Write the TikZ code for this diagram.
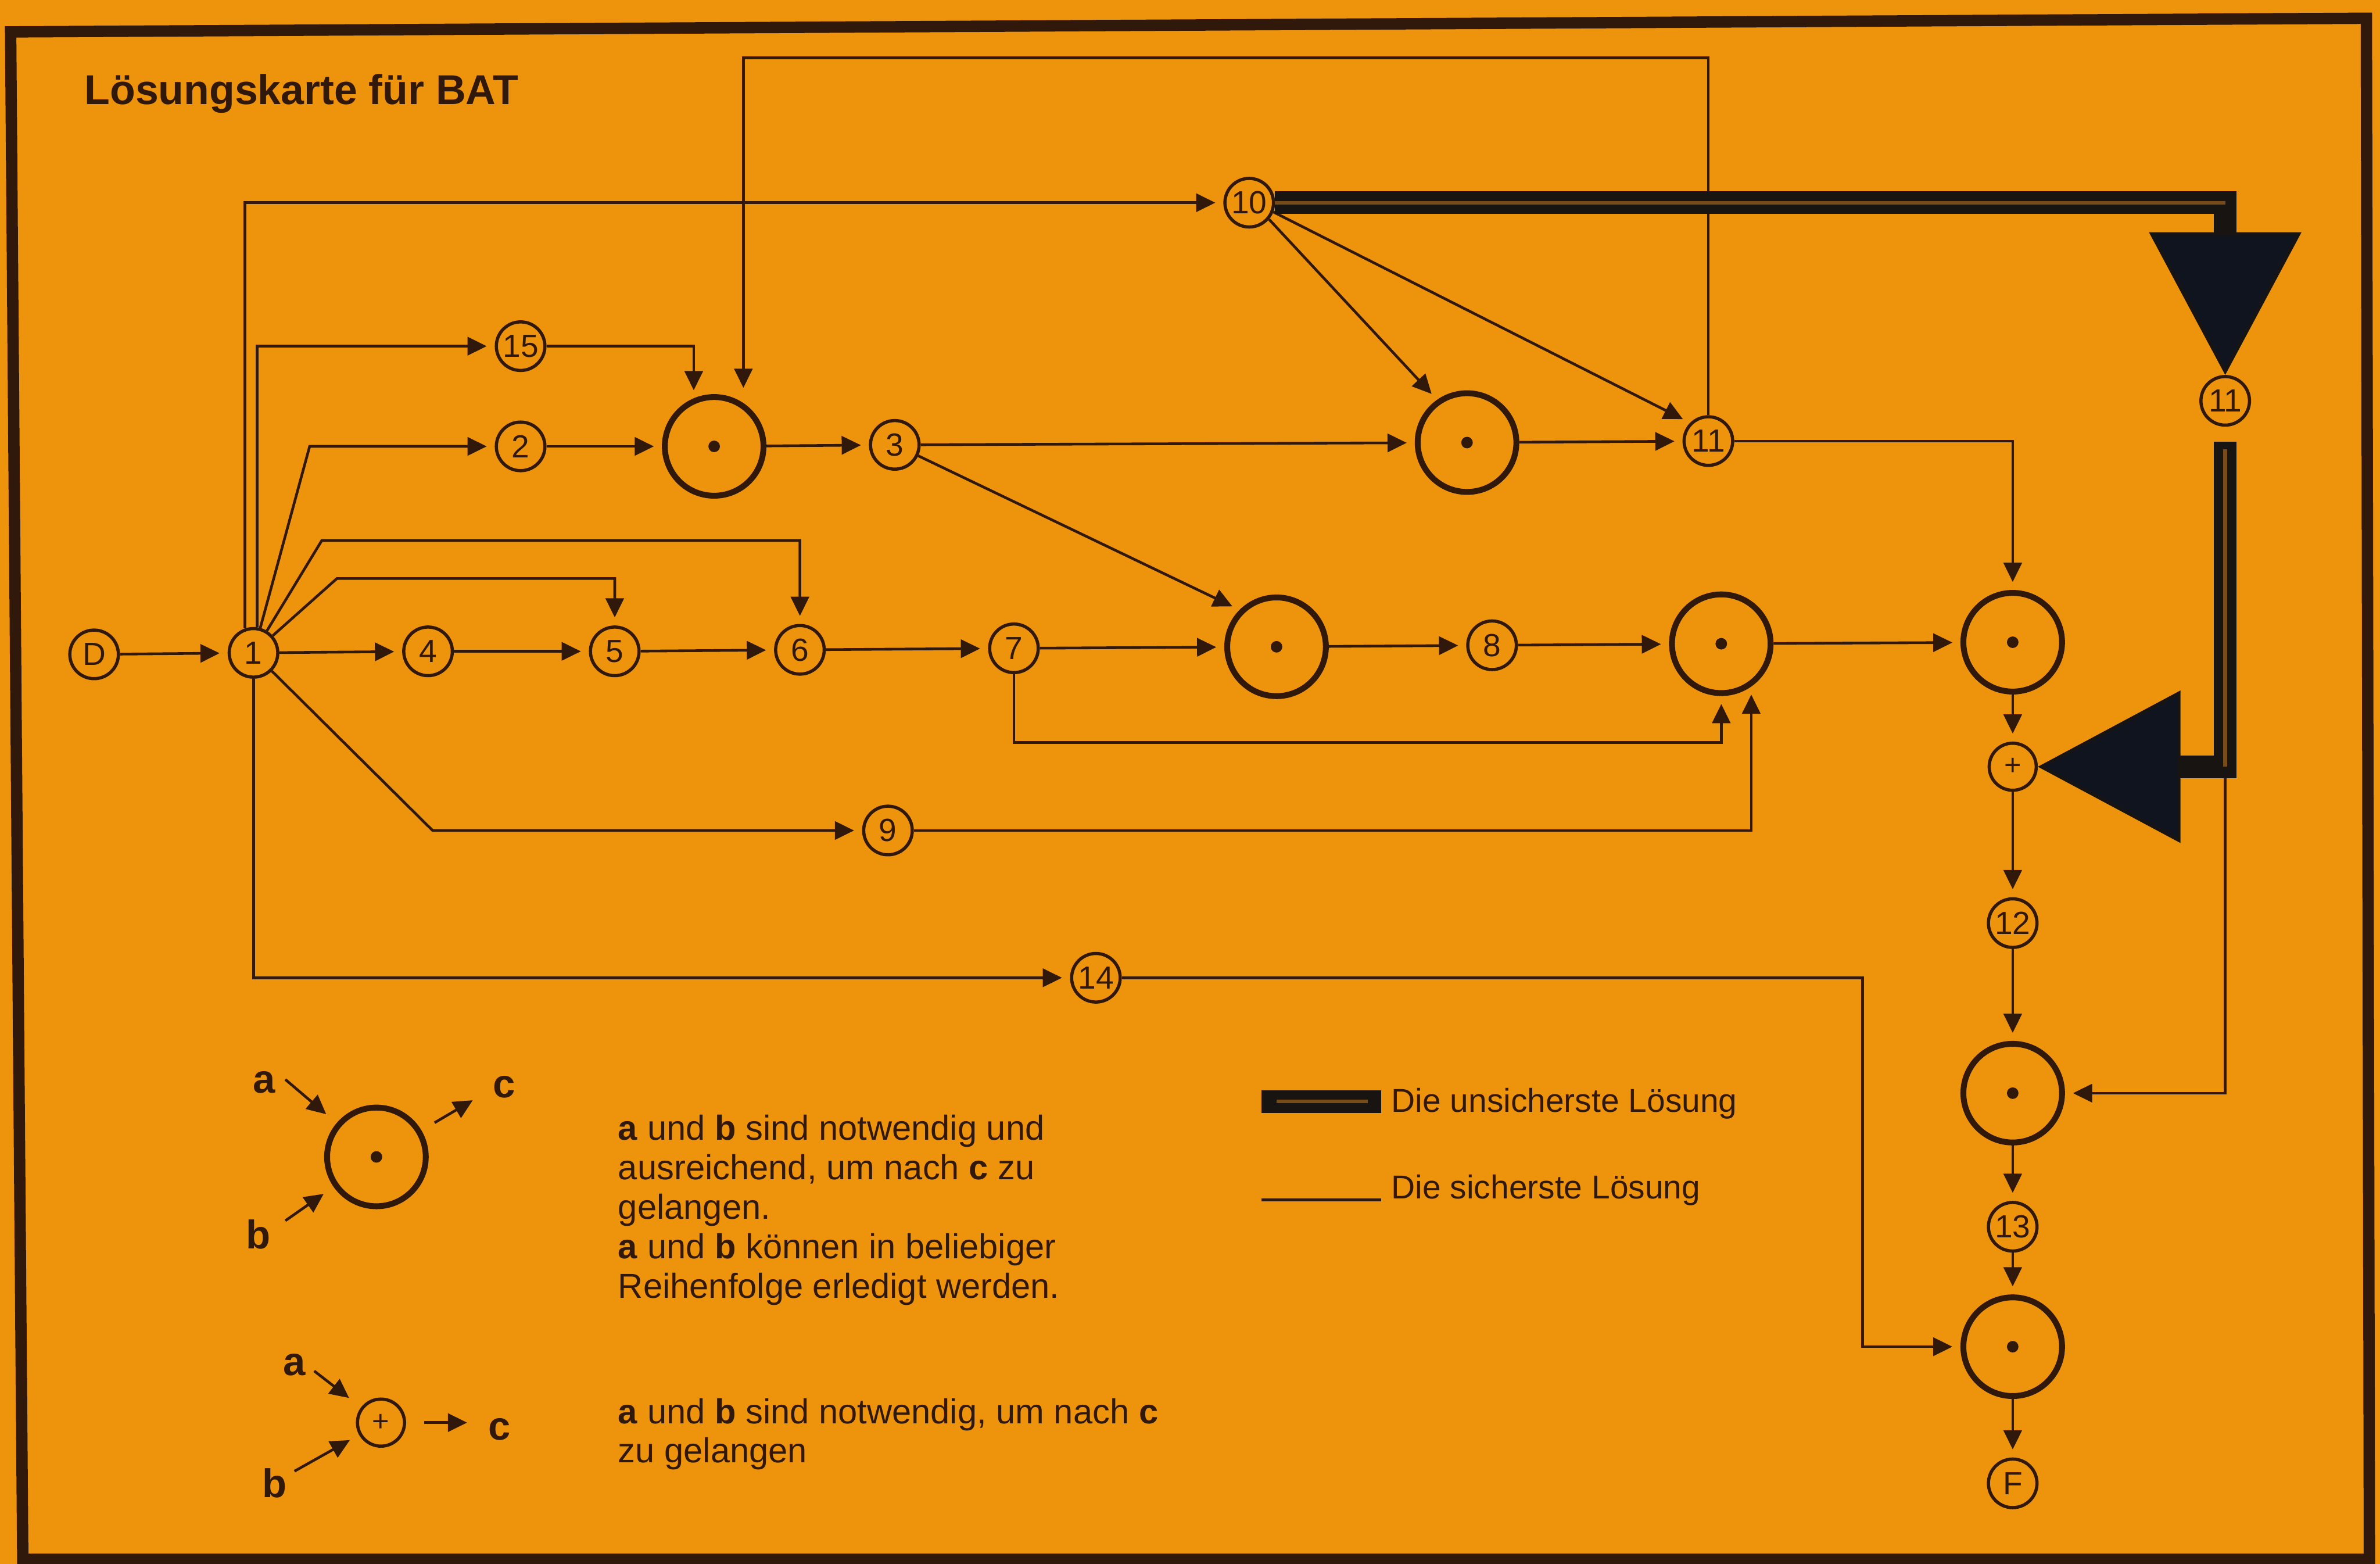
\documentclass[tikz,border=0pt]{standalone}
\usepackage{fontspec}
\setmainfont{Liberation Sans}
\usetikzlibrary{arrows.meta}

\definecolor{karte}{RGB}{238,147,12}
\definecolor{tinte}{RGB}{48,24,10}
\definecolor{balken}{RGB}{24,20,18}
\definecolor{keil}{RGB}{16,20,30}
\definecolor{streifen}{RGB}{120,76,24}

\tikzset{
	evt/.style={circle, draw=tinte, line width=0.6pt, minimum size=0.32cm, inner sep=0pt, text=tinte, font=\fontsize{6}{6}\selectfont},
	und/.style={circle, draw=tinte, line width=1.1pt, minimum size=0.65cm, inner sep=0pt, path picture={\fill[tinte] (path picture bounding box.center) circle (0.038);}},
	oder/.style={circle, draw=tinte, line width=0.6pt, minimum size=0.31cm, inner sep=0pt, text=tinte, font=\fontsize{5.5}{5.5}\selectfont},
	pfeil/.style={draw=tinte, line width=0.5pt, -{Triangle[length=3.6pt,width=3.4pt]}, shorten >=1.5pt},
	linie/.style={draw=tinte, line width=0.5pt},
	unsicher/.style={draw=balken, line width=0.15cm, line join=miter, -{Triangle[length=9.4mm,width=10mm,line width=0.6pt,fill=keil]}},
	naht/.style={draw=streifen, line width=0.7pt},
	rahmen/.style={draw=tinte, line width=0.075cm, line join=miter},
	lbl/.style={text=tinte, font=\bfseries\fontsize{7.5}{7.5}\selectfont, inner sep=0pt},
	txt/.style={text=tinte, font=\fontsize{6.5}{7.4}\selectfont, inner sep=0pt, align=left, anchor=base west},
	legtxt/.style={text=tinte, font=\fontsize{6.2}{7}\selectfont, inner sep=0pt, anchor=base west},
}

\begin{document}
\begin{tikzpicture}
	\useasboundingbox (0,0) rectangle (15.68,-10.30);
	\fill [karte] (0,0) rectangle (15.68,-10.30);
	\draw [rahmen] (0.07,-0.21) -- (15.59,-0.12) -- (15.61,-10.27) -- (0.15,-10.27) -- cycle;

	\node [anchor=base west, text=tinte, font=\bfseries\fontsize{7.8}{7.8}\selectfont, inner sep=0pt] (titel) at (0.55,-0.687) {Lösungskarte für BAT};

	\node [evt] (nD) at (0.62,-4.31) {D};
	\node [evt] (n1) at (1.67,-4.30) {1};
	\node [evt] (n4) at (2.82,-4.29) {4};
	\node [evt] (n5) at (4.05,-4.29) {5};
	\node [evt] (n6) at (5.27,-4.28) {6};
	\node [evt] (n7) at (6.68,-4.27) {7};
	\node [und] (uA) at (8.41,-4.26) {};
	\node [evt] (n8) at (9.83,-4.25) {8};
	\node [und] (uB) at (11.34,-4.24) {};
	\node [und] (uC) at (13.26,-4.23) {};
	\node [oder] (plus) at (13.26,-5.05) {+};
	\node [evt] (n12) at (13.26,-6.08) {12};
	\node [und] (uD) at (13.26,-7.20) {};
	\node [evt] (n13) at (13.26,-8.08) {13};
	\node [und] (uE) at (13.26,-8.87) {};
	\node [evt] (nF) at (13.26,-9.77) {F};

	\node [evt] (n15) at (3.43,-2.28) {15};
	\node [evt] (n2) at (3.43,-2.94) {2};
	\node [und] (uT) at (4.705,-2.94) {};
	\node [evt] (n3) at (5.895,-2.93) {3};
	\node [und] (uM) at (9.665,-2.915) {};
	\node [evt] (n11) at (11.255,-2.905) {11};
	\node [evt] (n10) at (8.23,-1.335) {10};
	\node [evt] (n11b) at (14.66,-2.64) {11};
	\node [evt] (n9) at (5.85,-5.47) {9};
	\node [evt] (n14) at (7.22,-6.44) {14};

	\coordinate (k2) at (2.04,-2.94);
	\coordinate (k6) at (2.12,-3.56);
	\coordinate (k5) at (2.22,-3.81);
	\coordinate (k9) at (2.85,-5.47);
	\coordinate (k7) at (6.68,-4.89);
	\coordinate (k14) at (12.27,-6.44);
	\coordinate (top) at (0,-0.38);
	\coordinate (r1) at (14.66,-1.335);
	\coordinate (r2) at (14.66,-5.05);

	\draw [pfeil] (nD) -- (n1);
	\draw [pfeil] (n1) -- (n4);
	\draw [pfeil] (n4) -- (n5);
	\draw [pfeil] (n5) -- (n6);
	\draw [pfeil] (n6) -- (n7);
	\draw [pfeil] (n7) -- (uA);
	\draw [pfeil] (uA) -- (n8);
	\draw [pfeil] (n8) -- (uB);
	\draw [pfeil] (uB) -- (uC);
	\draw [pfeil] (uC) -- (plus);
	\draw [pfeil] (plus) -- (n12);
	\draw [pfeil] (n12) -- (uD);
	\draw [pfeil] (uD) -- (n13);
	\draw [pfeil] (n13) -- (uE);
	\draw [pfeil] (uE) -- (nF);

	\draw [pfeil] (n1.109) |- (n10);
	\draw [pfeil] (n1.82) |- (n15);
	\draw [pfeil] (n1) -- (k2) -- (n2);
	\draw [pfeil] (n1) -- (k6) -| (n6);
	\draw [pfeil] (n1) -- (k5) -| (n5);
	\draw [pfeil] (n1) -- (k9) -- (n9);
	\draw [pfeil] (n1) |- (n14);

	\draw [pfeil] (n15) -| (uT.113);
	\draw [pfeil] (n2) -- (uT);
	\draw [pfeil] (uT) -- (n3);
	\draw [pfeil] (n3) -- (uM);
	\draw [pfeil] (n3.-25) -- (uA.135);
	\draw [pfeil] (n10.-40) -- (uM.125);
	\draw [pfeil] (n10.-21) -- (n11.135);
	\draw [pfeil] (uM) -- (n11);
	\draw [pfeil, shorten >=0.1cm] (n11) -- (n11 |- top) -| (uT.56);
	\draw [pfeil] (n11) -| (uC);
	\draw [pfeil] (n7) -- (k7) -| (uB);
	\draw [pfeil] (n9) -| (uB.-55);
	\draw [pfeil] (n14) -- (k14) |- (uE);
	\draw [pfeil] (r2) |- (uD);

	\draw [unsicher] (n10) -- (r1) -- (n11b);
	\draw [unsicher, shorten <=0.1cm] (n11b) -- (r2) -- (plus);
	\draw [naht] (n10.east) -- (r1);
	\draw [naht, shorten <=0.15cm] (n11b.south) -- (r2);

	\node [und] (lu) at (2.48,-7.62) {};
	\node [lbl] (la) at (1.74,-7.13) {a};
	\node [lbl] (lb) at (1.70,-8.13) {b};
	\node [lbl] (lc) at (3.32,-7.16) {c};
	\coordinate (pa) at (1.88,-7.11);
	\coordinate (pb) at (1.88,-8.04);
	\coordinate (pc) at (3.16,-7.22);
	\draw [pfeil, shorten >=0.09cm] (pa) -- (lu);
	\draw [pfeil, shorten >=0.08cm] (pb) -- (lu);
	\draw [pfeil, shorten <=0.1cm] (lu) -- (pc);

	\node [oder] (lo) at (2.51,-9.37) {+};
	\node [lbl] (la2) at (1.94,-8.99) {a};
	\node [lbl] (lb2) at (1.81,-9.77) {b};
	\node [lbl] (lc2) at (3.29,-9.415) {c};
	\coordinate (qa) at (2.07,-9.03);
	\coordinate (qb) at (1.94,-9.69);
	\coordinate (qc) at (3.13,-9.37);
	\draw [pfeil, shorten >=0.1cm] (qa) -- (lo);
	\draw [pfeil, shorten >=0.07cm] (qb) -- (lo);
	\draw [pfeil, shorten <=0.12cm] (lo) -- (qc);

	\node [txt] (erkl1) at (4.066,-8.55) {\textbf{a} und \textbf{b} sind notwendig und\\ausreichend, um nach \textbf{c} zu\\gelangen.\\\textbf{a} und \textbf{b} können in beliebiger\\Reihenfolge erledigt werden.};
	\node [txt] (erkl2) at (4.066,-9.635) {\textbf{a} und \textbf{b} sind notwendig, um nach \textbf{c}\\zu gelangen};

	\coordinate (s1) at (8.31,-7.255);
	\coordinate (s2) at (8.31,-7.904);
	\node [legtxt] (leg1) at (9.16,-7.325) {Die unsicherste Lösung};
	\node [legtxt] (leg2) at (9.16,-7.895) {Die sicherste Lösung};
	\draw [draw=balken, line width=0.15cm, shorten >=0.06cm] (s1) -- (s1 -| leg1.west);
	\draw [naht, shorten <=0.1cm, shorten >=0.15cm] (s1) -- (s1 -| leg1.west);
	\draw [linie, shorten >=0.06cm] (s2) -- (s2 -| leg2.west);

\end{tikzpicture}
\end{document}
